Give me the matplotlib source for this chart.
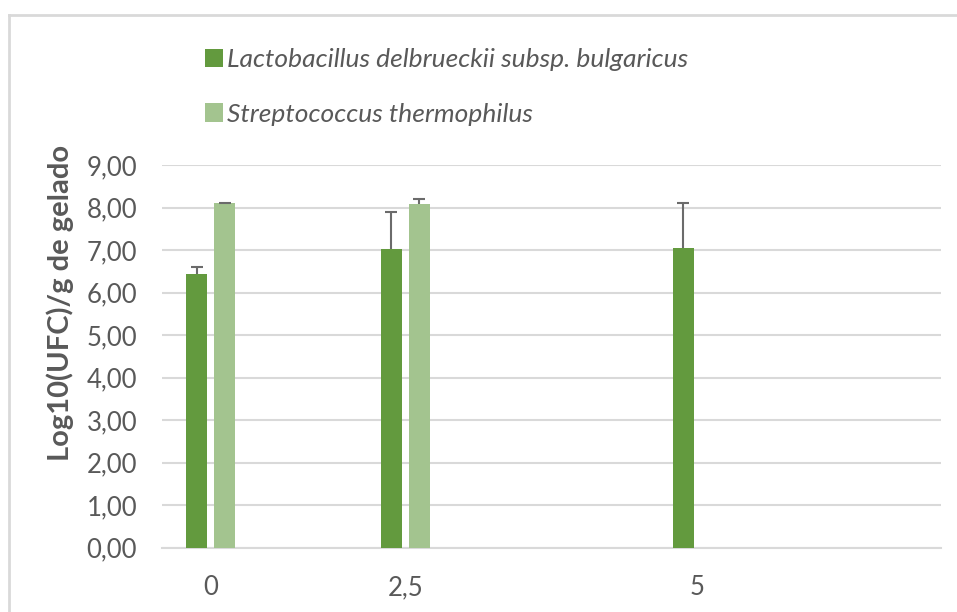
import matplotlib
matplotlib.use("Agg")
import matplotlib.pyplot as plt
from matplotlib.patches import Patch
from matplotlib.lines import Line2D
import numpy as np

categories = ["0", "2,5", "5"]
slots = [0, 2, 5]          # category slot positions on the 8-slot axis
lacto = [6.44, 7.03, 7.05]
lacto_err = [0.16, 0.88, 1.05]
strep = [8.10, 8.09, None]
strep_err = [0.02, 0.12, None]
series_names = ["Lactobacillus delbrueckii subsp. bulgaricus", "Streptococcus thermophilus"]
yticks = [0, 1, 2, 3, 4, 5, 6, 7, 8, 9]

c_dark = "#639A3E"
c_light = "#A3C48F"
c_grid = "#D9D9D9"
c_text = "#595959"

plt.rcParams['font.family'] = ['Lato', 'DejaVu Sans']

W, H = 957, 612
fig = plt.figure(figsize=(W / 100, H / 100), dpi=100)
ax_l, ax_r, ax_b, ax_t = 162, 940.7, 547.7, 165.2
ax = fig.add_axes([ax_l / W, (H - ax_b) / H, (ax_r - ax_l) / W, (ax_b - ax_t) / H])

bw = 0.22
off = 0.144
x = np.array(slots, dtype=float)
ekw = dict(ecolor="#6b6b6b", elinewidth=1.5, capsize=4.5, capthick=1.5, zorder=4)
b1 = ax.bar(x - off, lacto, width=bw, color=c_dark, zorder=3,
            yerr=[np.zeros(3), lacto_err], error_kw=ekw)
xs = [xi + off for xi, v in zip(x, strep) if v is not None]
vs = [v for v in strep if v is not None]
es = [e for e in strep_err if e is not None]
b2 = ax.bar(xs, vs, width=bw, color=c_light, zorder=3,
            yerr=[np.zeros(len(es)), es], error_kw=ekw)
# keep only the upper caps (plus-direction error bars)
for b in (b1, b2):
    caps = b.errorbar.lines[1]
    if len(caps) == 2:
        caps[0].set_visible(False)

ax.set_xlim(-0.5, 7.5)
ax.set_ylim(0, 9)
ax.set_yticks(yticks)
ax.set_yticklabels([f"{t:.2f}".replace(".", ",") for t in yticks], fontsize=18.5, color=c_text)
ax.set_xticks(x)
ax.set_xticklabels(categories, fontsize=18.5, color=c_text)
ax.tick_params(axis="both", length=0)
ax.tick_params(axis="x", pad=20)
ax.tick_params(axis="y", pad=18)
ax.grid(axis="y", color=c_grid, linewidth=1.5, zorder=0)
for s in ["top", "right", "left"]:
    ax.spines[s].set_visible(False)
ax.spines["bottom"].set_color(c_grid)
ax.spines["bottom"].set_linewidth(1.5)

ax.set_ylabel("Log10(UFC)/g de gelado", fontsize=21, fontweight="bold", color=c_text)
ax.yaxis.set_label_coords(-(ax_l - 74) / (ax_r - ax_l), (ax_b - 303) / (ax_b - ax_t))

handles = [Patch(facecolor=c_dark), Patch(facecolor=c_light)]
leg = fig.legend(handles, series_names, loc="upper left", bbox_to_anchor=(205 / W, 1 - 48 / H),
                 frameon=False, fontsize=19, handlelength=0.7, handleheight=0.7,
                 handletextpad=0.15, labelspacing=1.2, borderaxespad=0, borderpad=0)
for t in leg.get_texts():
    t.set_fontstyle("italic")
    t.set_color(c_text)

# chart frame
fig.add_artist(Line2D([9 / W, 9 / W], [0, 1 - 15 / H], transform=fig.transFigure, color="#D9D9D9", linewidth=2))
fig.add_artist(Line2D([9 / W, 1], [1 - 15 / H, 1 - 15 / H], transform=fig.transFigure, color="#D9D9D9", linewidth=2))

fig.savefig("out.png", dpi=100)
